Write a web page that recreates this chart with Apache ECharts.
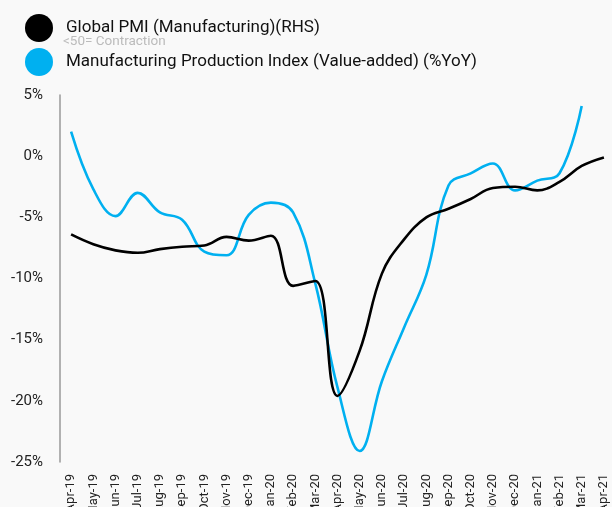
<!DOCTYPE html>
<html>
<head>
<meta charset="utf-8">
<script src="https://cdn.jsdelivr.net/npm/echarts@6/dist/echarts.min.js"></script>
<style>
  html, body { margin: 0; padding: 0; background: #f9f9f9; }
  #chart { width: 612px; height: 507px; }
</style>
</head>
<body>
<div id="chart"></div>
<script>
const months = [
  "Apr-19", "May-19", "Jun-19", "Jul-19", "Aug-19", "Sep-19", "Oct-19", "Nov-19",
  "Dec-19", "Jan-20", "Feb-20", "Mar-20", "Apr-20", "May-20", "Jun-20", "Jul-20",
  "Aug-20", "Sep-20", "Oct-20", "Nov-20", "Dec-20", "Jan-21", "Feb-21", "Mar-21", "Apr-21"
];

// Global PMI (Manufacturing), plotted against the visible % scale
const pmi = [
  -6.4, -7.2, -7.7, -7.9, -7.6, -7.4, -7.3, -6.6, -6.9, -6.5, -10.6, -10.2, -19.6,
  -15.9, -9.6, -6.8, -5.0, -4.3, -3.5, -2.6, -2.5, -2.8, -2.1, -0.8, -0.1
];

// Manufacturing Production Index (Value-added) (%YoY)
const production = [
  2.0, -2.7, -4.9, -3.0, -4.6, -5.2, -7.8, -8.1, -4.8, -3.8, -4.6, -10.4, -18.9,
  -24.1, -18.4, -14.0, -9.7, -2.4, -1.4, -0.6, -2.8, -2.0, -1.4, 4.1, null
];

const yTicks = { min: -25, max: 5, step: 5 };

const chart = echarts.init(document.getElementById("chart"));

const option = {
  backgroundColor: "#f9f9f9",
  animation: false,
  textStyle: { fontFamily: "Roboto" },
  legend: {
    orient: "vertical",
    left: 20,
    top: 9,
    itemGap: 6,
    itemWidth: 30,
    itemHeight: 28,
    icon: "circle",
    selectedMode: false,
    textStyle: { fontSize: 17, color: "#111", padding: [0, 0, 0, 7] },
    data: [
      { name: "Global PMI (Manufacturing)(RHS)" },
      {
        name: "Manufacturing Production Index (Value-added) (%YoY)",
        textStyle: { fontSize: 17, color: "#111", padding: [8, 0, 0, 7] },
      },
    ],
  },
  graphic: [
    {
      type: "text",
      left: 63,
      top: 35,
      style: {
        text: "<50= Contraction",
        fill: "#bbb",
        font: "13.5px Roboto",
      },
    },
  ],
  grid: { left: 60, top: 95, width: 555, bottom: 45, outerBoundsMode: "none" },
  xAxis: {
    type: "category",
    data: months,
    boundaryGap: true,
    axisLine: { show: false },
    axisTick: { show: false },
    axisLabel: { rotate: 90, margin: 12, fontSize: 13, color: "#222", interval: 0 },
  },
  yAxis: {
    type: "value",
    min: yTicks.min,
    max: yTicks.max,
    interval: yTicks.step,
    axisLine: { show: true, lineStyle: { color: "#999", width: 1.5 } },
    axisTick: { show: false },
    splitLine: { show: false },
    axisLabel: {
      fontSize: 15,
      color: "#222",
      margin: 17,
      formatter: (v) => v + "%",
    },
  },
  series: [
    {
      name: "Global PMI (Manufacturing)(RHS)",
      type: "line",
      data: pmi,
      smooth: 0.4,
      showSymbol: false,
      itemStyle: { color: "#000" },
      lineStyle: { color: "#000", width: 2.6 },
      z: 3,
    },
    {
      name: "Manufacturing Production Index (Value-added) (%YoY)",
      type: "line",
      data: production,
      smooth: 0.4,
      showSymbol: false,
      itemStyle: { color: "#00b0f0" },
      lineStyle: { color: "#00b0f0", width: 2.6 },
      z: 2,
    },
  ],
};

chart.setOption(option);
</script>
</body>
</html>
